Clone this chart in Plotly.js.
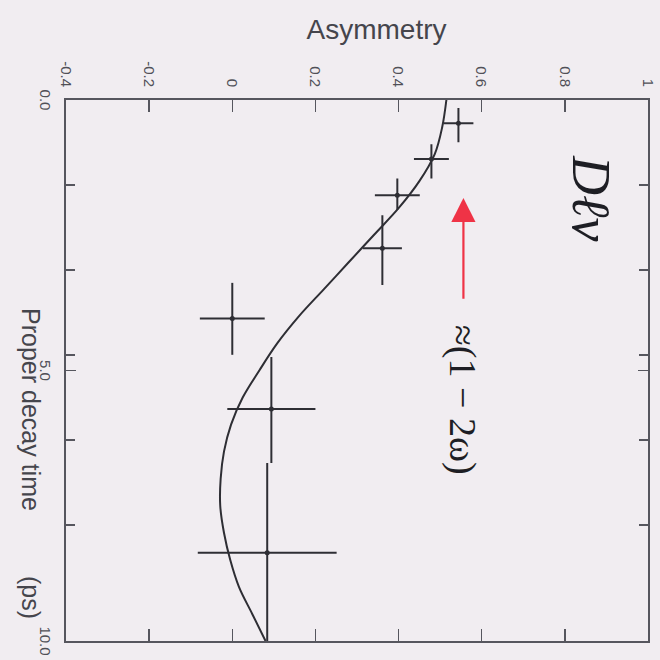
<!DOCTYPE html>
<html>
<head>
<meta charset="utf-8">
<script src="https://cdn.plot.ly/plotly-3.0.1.min.js"></script>
<style>
  html, body { margin: 0; padding: 0; background: #f1edf1; overflow: hidden; }
  /* The figure is laid out in the usual orientation and then turned a quarter turn clockwise */
  #chart { width: 660px; height: 660px; transform: rotate(90deg); transform-origin: 50% 50%; }
</style>
</head>
<body>
<div id="chart"></div>
<script>
// Measured asymmetry in bins of proper decay time (ps)
const times = [0.43, 1.09, 1.76, 2.74, 4.04, 5.71, 8.37];
const asymmetry = [0.544, 0.479, 0.397, 0.361, 0.0, 0.094, 0.084];
const asymError = [0.036, 0.042, 0.054, 0.047, 0.078, 0.106, 0.167];
const binLow = [0.15, 0.82, 1.45, 2.13, 3.38, 4.75, 6.71];
const binHigh = [0.78, 1.45, 2.03, 3.42, 4.71, 6.71, 10.0];

// Fitted mixing curve
const fitTime = [0, 0.5, 1.0, 1.5, 2.0, 2.5, 3.0, 3.5, 4.0, 4.5, 5.0, 5.5, 6.0, 6.5, 7.0, 7.5, 8.0, 8.5, 9.0, 9.5, 10.0];
const fitAsym = [0.515, 0.505, 0.487, 0.45, 0.40, 0.34, 0.28, 0.22, 0.16, 0.108, 0.065, 0.025, -0.003, -0.02, -0.028, -0.029, -0.02, -0.005, 0.016, 0.048, 0.08];

// Axis ticks
const asymTickVals = [-0.4, -0.2, 0, 0.2, 0.4, 0.6, 0.8, 1];
const asymTickText = ['-0.4', '-0.2', '0', '0.2', '0.4', '0.6', '0.8', '1'];
const timeTickVals = [0, 5, 10];
const timeTickText = ['0.0', '5.0', '10.0'];
const timeMinorTicks = [1.571, 3.142, 4.712, 6.283, 7.854];

const ink = '#2e2e34';
const frame = '#56565e';

const fit = {
  x: fitTime, y: fitAsym, type: 'scatter', mode: 'lines',
  line: { color: ink, width: 2, shape: 'spline', smoothing: 1 },
  hoverinfo: 'skip'
};

const data = {
  x: times, y: asymmetry, type: 'scatter', mode: 'markers',
  marker: { color: ink, size: 5 },
  error_x: {
    type: 'data', symmetric: false,
    array: times.map((t, i) => binHigh[i] - t),
    arrayminus: times.map((t, i) => t - binLow[i]),
    color: ink, thickness: 2, width: 0
  },
  error_y: { type: 'data', array: asymError, color: ink, thickness: 2, width: 0 }
};

const sans = 'Liberation Sans, Arial, sans-serif';
const serif = 'Liberation Serif, Times New Roman, serif';

const layout = {
  width: 660, height: 660,
  margin: { l: 100, r: 19, t: 12, b: 66 },
  paper_bgcolor: '#f1edf1', plot_bgcolor: '#f1edf1',
  showlegend: false,
  xaxis: {
    range: [0, 10], tickmode: 'array', tickvals: timeTickVals, ticktext: timeTickText,
    ticks: 'inside', ticklen: 10, tickwidth: 1.5, tickcolor: frame,
    minor: { tickvals: timeMinorTicks, ticks: 'inside', ticklen: 9, tickwidth: 1.5, tickcolor: frame },
    showline: true, mirror: 'allticks', linecolor: frame, linewidth: 2,
    showgrid: false, zeroline: false,
    tickfont: { family: sans, size: 15, color: '#505057' }, ticklabelstandoff: 6
  },
  yaxis: {
    range: [-0.4, 1], tickmode: 'array', tickvals: asymTickVals, ticktext: asymTickText,
    ticks: 'inside', ticklen: 12, tickwidth: 1.5, tickcolor: frame,
    showline: true, mirror: 'allticks', linecolor: frame, linewidth: 2,
    showgrid: false, zeroline: false,
    tickfont: { family: sans, size: 15, color: '#505057' }, ticklabelstandoff: 8
  },
  annotations: [
    { text: 'Asymmetry', xref: 'paper', yref: 'paper', x: -0.13, y: 0.533,
      textangle: -90, showarrow: false, xanchor: 'center', yanchor: 'middle',
      font: { family: sans, size: 28, color: '#45454c' } },
    { text: 'Proper decay time', xref: 'paper', yref: 'paper', x: 0.573, y: -0.06,
      showarrow: false, xanchor: 'center', yanchor: 'middle',
      font: { family: sans, size: 25, color: '#45454c' } },
    { text: '(ps)', xref: 'paper', yref: 'paper', x: 0.92, y: -0.06,
      showarrow: false, xanchor: 'center', yanchor: 'middle',
      font: { family: sans, size: 25, color: '#45454c' } },
    { text: '<i>Dℓν</i>', xref: 'x', yref: 'y', x: 1.81, y: 0.864,
      showarrow: false, xanchor: 'center', yanchor: 'middle',
      font: { family: serif, size: 54, color: '#1e1e24' } },
    { text: '≈(1 − 2ω)', xref: 'x', yref: 'y', x: 5.55, y: 0.553,
      showarrow: false, xanchor: 'center', yanchor: 'middle',
      font: { family: serif, size: 38, color: '#1e1e24' } },
    { text: '', xref: 'x', yref: 'y', x: 1.81, y: 0.556,
      axref: 'x', ayref: 'y', ax: 3.7, ay: 0.556,
      showarrow: true, arrowhead: 2, arrowsize: 2.2, arrowwidth: 2.2, arrowcolor: '#ef3346' }
  ]
};

Plotly.newPlot('chart', [fit, data], layout, { displayModeBar: false, staticPlot: true });
</script>
</body>
</html>
